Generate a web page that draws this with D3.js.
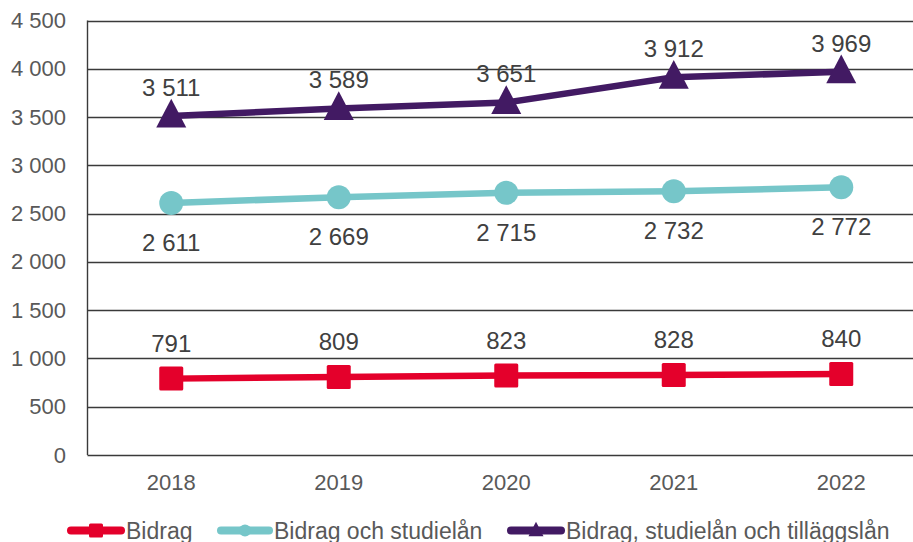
<!DOCTYPE html>
<html>
<head>
<meta charset="utf-8">
<script src="https://cdn.jsdelivr.net/npm/d3@7"></script>
<style>
  body { margin: 0; background: #fff; }
  svg { display: block; font-family: "Liberation Sans", Arial, sans-serif; }
</style>
</head>
<body>
<script>
const years = ['2018', '2019', '2020', '2021', '2022'];
const bidrag = [791, 809, 823, 828, 840];
const bidragStudielan = [2611, 2669, 2715, 2732, 2772];
const bidragAllt = [3511, 3589, 3651, 3912, 3969];
const yTicks = [0, 500, 1000, 1500, 2000, 2500, 3000, 3500, 4000, 4500];

const width = 913;
const height = 542;
const margin = { top: 20.5, left: 87.5 };
const plotRight = 925;
const plotBottom = 455;

const series = [
  { name: 'Bidrag', values: bidrag, color: '#E4002B', marker: 'square', labelDy: -27 },
  { name: 'Bidrag och studielån', values: bidragStudielan, color: '#76C6C9', marker: 'circle', labelDy: 48 },
  { name: 'Bidrag, studielån och tilläggslån', values: bidragAllt, color: '#421A63', marker: 'triangle', labelDy: -20 }
];

const svg = d3.select('body')
  .append('svg')
  .attr('width', width)
  .attr('height', height);

const x = d3.scaleBand()
  .domain(years)
  .range([margin.left, plotRight]);

const y = d3.scaleLinear()
  .domain([0, 4500])
  .range([plotBottom, margin.top]);

const fmt = v => d3.format(',')(v).replace(/,/g, ' ');

// gridlines
svg.append('g')
  .selectAll('line')
  .data(yTicks)
  .join('line')
  .attr('x1', margin.left)
  .attr('x2', plotRight)
  .attr('y1', d => Math.round(y(d)) + 0.5)
  .attr('y2', d => Math.round(y(d)) + 0.5)
  .attr('stroke', '#3a3a3a')
  .attr('stroke-width', 1.4);

// left axis line
svg.append('line')
  .attr('x1', margin.left).attr('x2', margin.left)
  .attr('y1', y(4500)).attr('y2', y(0))
  .attr('stroke', '#3a3a3a')
  .attr('stroke-width', 1.4);

// y labels
svg.append('g')
  .selectAll('text')
  .data(yTicks)
  .join('text')
  .attr('x', 66)
  .attr('y', d => y(d) + 7.5)
  .attr('text-anchor', 'end')
  .attr('font-size', 22)
  .attr('fill', '#595959')
  .text(fmt);

// x labels
svg.append('g')
  .selectAll('text')
  .data(years)
  .join('text')
  .attr('x', d => x(d) + x.bandwidth() / 2)
  .attr('y', 489.5)
  .attr('text-anchor', 'middle')
  .attr('font-size', 22)
  .attr('fill', '#595959')
  .text(d => d);

const cx = d => x(d) + x.bandwidth() / 2;

function drawMarker(g, type, px, py, size, color) {
  if (type === 'square') {
    g.append('rect')
      .attr('x', px - size / 2).attr('y', py - size / 2)
      .attr('width', size).attr('height', size)
      .attr('rx', 1.5)
      .attr('fill', color);
  } else if (type === 'circle') {
    g.append('circle')
      .attr('cx', px).attr('cy', py).attr('r', size / 2)
      .attr('fill', color);
  } else {
    const w = size * 1.25;
    const h = size * 1.2;
    g.append('path')
      .attr('d', `M${px},${py - h * 0.6}L${px + w / 2},${py + h * 0.4}L${px - w / 2},${py + h * 0.4}Z`)
      .attr('fill', color);
  }
}

const line = d3.line()
  .x((d, i) => cx(years[i]))
  .y(d => y(d));

series.forEach(s => {
  const g = svg.append('g');
  g.append('path')
    .datum(s.values)
    .attr('d', line)
    .attr('fill', 'none')
    .attr('stroke', s.color)
    .attr('stroke-width', 6.5);
  s.values.forEach((v, i) => drawMarker(g, s.marker, cx(years[i]), y(v), 24, s.color));
  g.selectAll('text')
    .data(s.values)
    .join('text')
    .attr('x', (d, i) => cx(years[i]))
    .attr('y', d => y(d) + s.labelDy)
    .attr('text-anchor', 'middle')
    .attr('font-size', 24)
    .attr('fill', '#404040')
    .text(fmt);
});

// legend
const legendItems = [
  { x1: 67, x2: 125, tx: 126 },
  { x1: 217, x2: 273, tx: 274 },
  { x1: 507, x2: 565, tx: 566 }
];
const ly = 530.5;
series.forEach((s, i) => {
  const it = legendItems[i];
  const g = svg.append('g');
  g.append('line')
    .attr('x1', it.x1 + 4).attr('x2', it.x2 - 4)
    .attr('y1', ly).attr('y2', ly)
    .attr('stroke', s.color)
    .attr('stroke-width', 8)
    .attr('stroke-linecap', 'round');
  drawMarker(g, s.marker, (it.x1 + it.x2) / 2, ly, s.marker === 'square' ? 14 : 12, s.color);
  g.append('text')
    .attr('x', it.tx)
    .attr('y', 538.5)
    .attr('font-size', 23)
    .attr('fill', '#595959')
    .text(s.name);
});
</script>
</body>
</html>
